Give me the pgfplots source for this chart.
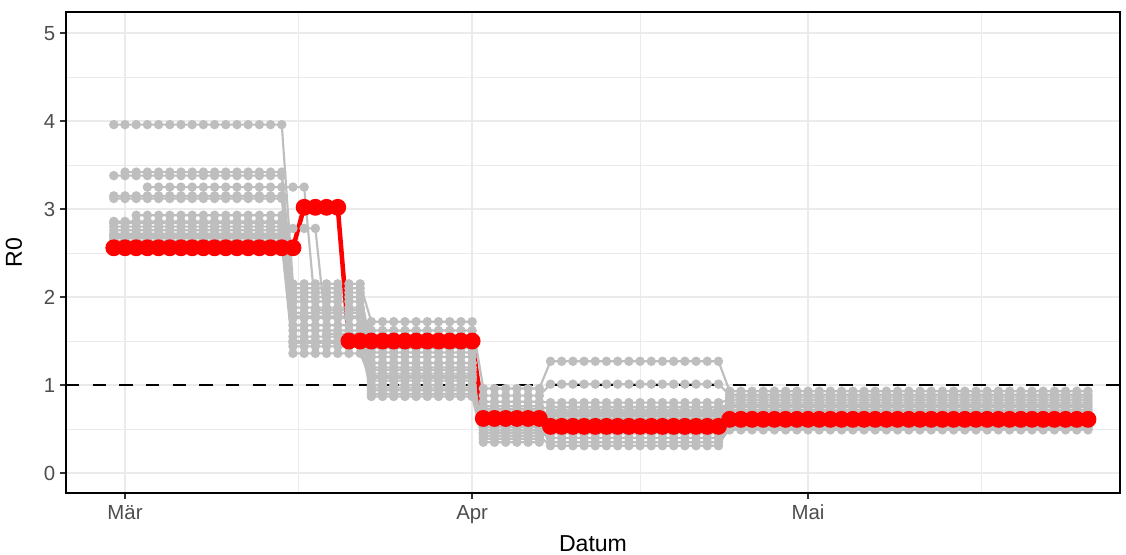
\documentclass[border=0pt]{standalone}
\usepackage{fontspec}
\setmainfont{Liberation Sans}
\usepackage{pgfplots}
\pgfplotsset{compat=1.18}
\usepackage{pgfplotstable}
\definecolor{gridc}{HTML}{EBEBEB}
\definecolor{tickc}{HTML}{4D4D4D}
\definecolor{lgray}{HTML}{BEBEBE}

\pgfplotstableread{
d r g1 g2 g3 g4 g5 g6 g7 g8 g9 g10 g11 g12 g13 g14 g15 g16 g17 g18
-1 2.56 3.96 3.38 nan nan 3.15 3.12 nan 2.86 2.80 2.76 2.70 2.67 2.64 2.60 2.72 2.62 2.68 2.84
0 2.56 3.96 3.38 3.42 nan 3.15 3.12 nan 2.86 2.80 2.76 2.70 2.67 2.64 2.60 2.72 2.62 2.68 2.84
1 2.56 3.96 3.38 3.42 nan 3.15 3.12 2.93 2.86 2.80 2.76 2.70 2.67 2.64 2.60 2.72 2.62 2.68 2.84
2 2.56 3.96 3.38 3.42 3.25 3.15 3.12 2.93 2.86 2.80 2.76 2.70 2.67 2.64 2.60 2.72 2.62 2.68 2.84
3 2.56 3.96 3.38 3.42 3.25 3.15 3.12 2.93 2.86 2.80 2.76 2.70 2.67 2.64 2.60 2.72 2.62 2.68 2.84
4 2.56 3.96 3.38 3.42 3.25 3.15 3.12 2.93 2.86 2.80 2.76 2.70 2.67 2.64 2.60 2.72 2.62 2.68 2.84
5 2.56 3.96 3.38 3.42 3.25 3.15 3.12 2.93 2.86 2.80 2.76 2.70 2.67 2.64 2.60 2.72 2.62 2.68 2.84
6 2.56 3.96 3.38 3.42 3.25 3.15 3.12 2.93 2.86 2.80 2.76 2.70 2.67 2.64 2.60 2.72 2.62 2.68 2.84
7 2.56 3.96 3.38 3.42 3.25 3.15 3.12 2.93 2.86 2.80 2.76 2.70 2.67 2.64 2.60 2.72 2.62 2.68 2.84
8 2.56 3.96 3.38 3.42 3.25 3.15 3.12 2.93 2.86 2.80 2.76 2.70 2.67 2.64 2.60 2.72 2.62 2.68 2.84
9 2.56 3.96 3.38 3.42 3.25 3.15 3.12 2.93 2.86 2.80 2.76 2.70 2.67 2.64 2.60 2.72 2.62 2.68 2.84
10 2.56 3.96 3.38 3.42 3.25 3.15 3.12 2.93 2.86 2.80 2.76 2.70 2.67 2.64 2.60 2.72 2.62 2.68 2.84
11 2.56 3.96 3.38 3.42 3.25 3.15 3.12 2.93 2.86 2.80 2.76 2.70 2.67 2.64 2.60 2.72 2.62 2.68 2.84
12 2.56 3.96 3.38 3.42 3.25 3.15 3.12 2.93 2.86 2.80 2.76 2.70 2.67 2.64 2.60 2.72 2.62 2.68 2.84
13 2.56 3.96 3.38 3.42 3.25 3.15 3.12 2.93 2.86 2.80 2.76 2.70 2.67 2.64 2.60 2.72 2.62 2.68 2.84
14 2.56 3.96 3.38 3.42 3.25 3.15 3.12 2.93 2.86 2.80 2.76 2.70 2.67 2.64 2.60 2.72 2.62 2.68 2.84
15 2.56 2.15 2.10 2.05 3.25 2.00 1.95 1.78 1.76 1.68 1.62 1.55 1.50 1.48 1.36 1.44 2.78 1.88 1.82
16 3.02 2.15 2.10 2.05 3.25 2.00 1.95 1.78 1.76 1.68 1.62 1.55 1.50 1.48 1.36 1.44 2.78 1.88 1.82
17 3.02 2.15 2.10 2.05 1.85 2.00 1.95 1.78 1.76 1.68 1.62 1.55 1.50 1.48 1.36 1.44 2.78 1.88 1.82
18 3.02 2.15 2.10 2.05 1.85 2.00 1.95 1.78 1.76 1.68 1.62 1.55 1.50 1.48 1.36 1.44 1.58 1.88 1.82
19 3.02 2.15 2.10 2.05 1.85 2.00 1.95 1.78 1.76 1.68 1.62 1.55 1.50 1.48 1.36 1.44 1.58 1.88 1.82
20 1.50 2.15 2.10 2.05 1.85 2.00 1.95 1.78 1.76 1.68 1.62 1.55 1.50 1.48 1.36 1.44 1.58 1.88 1.82
21 1.50 2.15 2.10 2.05 1.85 2.00 1.95 1.78 1.76 1.68 1.62 1.55 1.50 1.48 1.36 1.44 1.58 1.88 1.82
22 1.50 1.72 1.32 1.42 1.25 1.17 1.08 0.94 0.87 1.00 1.25 1.10 0.90 1.20 1.05 0.97 1.13 1.37 1.62
23 1.50 1.72 1.32 1.42 1.25 1.17 1.08 0.94 0.87 1.00 1.25 1.10 0.90 1.20 1.05 0.97 1.13 1.37 1.62
24 1.50 1.72 1.32 1.42 1.25 1.17 1.08 0.94 0.87 1.00 1.25 1.10 0.90 1.20 1.05 0.97 1.13 1.37 1.62
25 1.50 1.72 1.32 1.42 1.25 1.17 1.08 0.94 0.87 1.00 1.25 1.10 0.90 1.20 1.05 0.97 1.13 1.37 1.62
26 1.50 1.72 1.32 1.42 1.25 1.17 1.08 0.94 0.87 1.00 1.25 1.10 0.90 1.20 1.05 0.97 1.13 1.37 1.62
27 1.50 1.72 1.32 1.42 1.25 1.17 1.08 0.94 0.87 1.00 1.25 1.10 0.90 1.20 1.05 0.97 1.13 1.37 1.62
28 1.50 1.72 1.32 1.42 1.25 1.17 1.08 0.94 0.87 1.00 1.25 1.10 0.90 1.20 1.05 0.97 1.13 1.37 1.62
29 1.50 1.72 1.32 1.42 1.25 1.17 1.08 0.94 0.87 1.00 1.25 1.10 0.90 1.20 1.05 0.97 1.13 1.37 1.62
30 1.50 1.72 1.32 1.42 1.25 1.17 1.08 0.94 0.87 1.00 1.25 1.10 0.90 1.20 1.05 0.97 1.13 1.37 1.62
31 1.50 1.72 1.32 1.42 1.25 1.17 1.08 0.94 0.87 1.00 1.25 1.10 0.90 1.20 1.05 0.97 1.13 1.37 1.62
32 0.62 0.96 0.88 0.81 0.73 0.55 0.49 0.39 0.35 0.45 0.58 0.52 0.42 0.70 0.60 0.67 0.76 0.46 0.63
33 0.62 0.96 0.88 0.81 0.73 0.55 0.49 0.39 0.35 0.45 0.58 0.52 0.42 0.70 0.60 0.67 0.76 0.46 0.63
34 0.62 0.96 0.88 0.81 0.73 0.55 0.49 0.39 0.35 0.45 0.58 0.52 0.42 0.70 0.60 0.67 0.76 0.46 0.63
35 0.62 0.96 0.88 0.81 0.73 0.55 0.49 0.39 0.35 0.45 0.58 0.52 0.42 0.70 0.60 0.67 0.76 0.46 0.63
36 0.62 0.96 0.88 0.81 0.73 0.55 0.49 0.39 0.35 0.45 0.58 0.52 0.42 0.70 0.60 0.67 0.76 0.46 0.63
37 0.62 0.96 0.88 0.81 0.73 0.55 0.49 0.39 0.35 0.45 0.58 0.52 0.42 0.70 0.60 0.67 0.76 0.46 0.63
38 0.53 1.27 1.01 0.80 0.75 0.72 0.68 0.65 0.60 0.47 0.40 0.35 0.31 0.57 0.50 0.45 0.62 0.70 0.66
39 0.53 1.27 1.01 0.80 0.75 0.72 0.68 0.65 0.60 0.47 0.40 0.35 0.31 0.57 0.50 0.45 0.62 0.70 0.66
40 0.53 1.27 1.01 0.80 0.75 0.72 0.68 0.65 0.60 0.47 0.40 0.35 0.31 0.57 0.50 0.45 0.62 0.70 0.66
41 0.53 1.27 1.01 0.80 0.75 0.72 0.68 0.65 0.60 0.47 0.40 0.35 0.31 0.57 0.50 0.45 0.62 0.70 0.66
42 0.53 1.27 1.01 0.80 0.75 0.72 0.68 0.65 0.60 0.47 0.40 0.35 0.31 0.57 0.50 0.45 0.62 0.70 0.66
43 0.53 1.27 1.01 0.80 0.75 0.72 0.68 0.65 0.60 0.47 0.40 0.35 0.31 0.57 0.50 0.45 0.62 0.70 0.66
44 0.53 1.27 1.01 0.80 0.75 0.72 0.68 0.65 0.60 0.47 0.40 0.35 0.31 0.57 0.50 0.45 0.62 0.70 0.66
45 0.53 1.27 1.01 0.80 0.75 0.72 0.68 0.65 0.60 0.47 0.40 0.35 0.31 0.57 0.50 0.45 0.62 0.70 0.66
46 0.53 1.27 1.01 0.80 0.75 0.72 0.68 0.65 0.60 0.47 0.40 0.35 0.31 0.57 0.50 0.45 0.62 0.70 0.66
47 0.53 1.27 1.01 0.80 0.75 0.72 0.68 0.65 0.60 0.47 0.40 0.35 0.31 0.57 0.50 0.45 0.62 0.70 0.66
48 0.53 1.27 1.01 0.80 0.75 0.72 0.68 0.65 0.60 0.47 0.40 0.35 0.31 0.57 0.50 0.45 0.62 0.70 0.66
49 0.53 1.27 1.01 0.80 0.75 0.72 0.68 0.65 0.60 0.47 0.40 0.35 0.31 0.57 0.50 0.45 0.62 0.70 0.66
50 0.53 1.27 1.01 0.80 0.75 0.72 0.68 0.65 0.60 0.47 0.40 0.35 0.31 0.57 0.50 0.45 0.62 0.70 0.66
51 0.53 1.27 1.01 0.80 0.75 0.72 0.68 0.65 0.60 0.47 0.40 0.35 0.31 0.57 0.50 0.45 0.62 0.70 0.66
52 0.53 1.27 1.01 0.80 0.75 0.72 0.68 0.65 0.60 0.47 0.40 0.35 0.31 0.57 0.50 0.45 0.62 0.70 0.66
53 0.53 1.27 1.01 0.80 0.75 0.72 0.68 0.65 0.60 0.47 0.40 0.35 0.31 0.57 0.50 0.45 0.62 0.70 0.66
54 0.61 0.93 0.89 0.83 0.77 0.72 0.70 0.66 0.65 0.55 0.50 0.49 0.53 0.58 0.60 0.80 0.86 0.75 0.52
55 0.61 0.93 0.89 0.83 0.77 0.72 0.70 0.66 0.65 0.55 0.50 0.49 0.53 0.58 0.60 0.80 0.86 0.75 0.52
56 0.61 0.93 0.89 0.83 0.77 0.72 0.70 0.66 0.65 0.55 0.50 0.49 0.53 0.58 0.60 0.80 0.86 0.75 0.52
57 0.61 0.93 0.89 0.83 0.77 0.72 0.70 0.66 0.65 0.55 0.50 0.49 0.53 0.58 0.60 0.80 0.86 0.75 0.52
58 0.61 0.93 0.89 0.83 0.77 0.72 0.70 0.66 0.65 0.55 0.50 0.49 0.53 0.58 0.60 0.80 0.86 0.75 0.52
59 0.61 0.93 0.89 0.83 0.77 0.72 0.70 0.66 0.65 0.55 0.50 0.49 0.53 0.58 0.60 0.80 0.86 0.75 0.52
60 0.61 0.93 0.89 0.83 0.77 0.72 0.70 0.66 0.65 0.55 0.50 0.49 0.53 0.58 0.60 0.80 0.86 0.75 0.52
61 0.61 0.93 0.89 0.83 0.77 0.72 0.70 0.66 0.65 0.55 0.50 0.49 0.53 0.58 0.60 0.80 0.86 0.75 0.52
62 0.61 0.93 0.89 0.83 0.77 0.72 0.70 0.66 0.65 0.55 0.50 0.49 0.53 0.58 0.60 0.80 0.86 0.75 0.52
63 0.61 0.93 0.89 0.83 0.77 0.72 0.70 0.66 0.65 0.55 0.50 0.49 0.53 0.58 0.60 0.80 0.86 0.75 0.52
64 0.61 0.93 0.89 0.83 0.77 0.72 0.70 0.66 0.65 0.55 0.50 0.49 0.53 0.58 0.60 0.80 0.86 0.75 0.52
65 0.61 0.93 0.89 0.83 0.77 0.72 0.70 0.66 0.65 0.55 0.50 0.49 0.53 0.58 0.60 0.80 0.86 0.75 0.52
66 0.61 0.93 0.89 0.83 0.77 0.72 0.70 0.66 0.65 0.55 0.50 0.49 0.53 0.58 0.60 0.80 0.86 0.75 0.52
67 0.61 0.93 0.89 0.83 0.77 0.72 0.70 0.66 0.65 0.55 0.50 0.49 0.53 0.58 0.60 0.80 0.86 0.75 0.52
68 0.61 0.93 0.89 0.83 0.77 0.72 0.70 0.66 0.65 0.55 0.50 0.49 0.53 0.58 0.60 0.80 0.86 0.75 0.52
69 0.61 0.93 0.89 0.83 0.77 0.72 0.70 0.66 0.65 0.55 0.50 0.49 0.53 0.58 0.60 0.80 0.86 0.75 0.52
70 0.61 0.93 0.89 0.83 0.77 0.72 0.70 0.66 0.65 0.55 0.50 0.49 0.53 0.58 0.60 0.80 0.86 0.75 0.52
71 0.61 0.93 0.89 0.83 0.77 0.72 0.70 0.66 0.65 0.55 0.50 0.49 0.53 0.58 0.60 0.80 0.86 0.75 0.52
72 0.61 0.93 0.89 0.83 0.77 0.72 0.70 0.66 0.65 0.55 0.50 0.49 0.53 0.58 0.60 0.80 0.86 0.75 0.52
73 0.61 0.93 0.89 0.83 0.77 0.72 0.70 0.66 0.65 0.55 0.50 0.49 0.53 0.58 0.60 0.80 0.86 0.75 0.52
74 0.61 0.93 0.89 0.83 0.77 0.72 0.70 0.66 0.65 0.55 0.50 0.49 0.53 0.58 0.60 0.80 0.86 0.75 0.52
75 0.61 0.93 0.89 0.83 0.77 0.72 0.70 0.66 0.65 0.55 0.50 0.49 0.53 0.58 0.60 0.80 0.86 0.75 0.52
76 0.61 0.93 0.89 0.83 0.77 0.72 0.70 0.66 0.65 0.55 0.50 0.49 0.53 0.58 0.60 0.80 0.86 0.75 0.52
77 0.61 0.93 0.89 0.83 0.77 0.72 0.70 0.66 0.65 0.55 0.50 0.49 0.53 0.58 0.60 0.80 0.86 0.75 0.52
78 0.61 0.93 0.89 0.83 0.77 0.72 0.70 0.66 0.65 0.55 0.50 0.49 0.53 0.58 0.60 0.80 0.86 0.75 0.52
79 0.61 0.93 0.89 0.83 0.77 0.72 0.70 0.66 0.65 0.55 0.50 0.49 0.53 0.58 0.60 0.80 0.86 0.75 0.52
80 0.61 0.93 0.89 0.83 0.77 0.72 0.70 0.66 0.65 0.55 0.50 0.49 0.53 0.58 0.60 0.80 0.86 0.75 0.52
81 0.61 0.93 0.89 0.83 0.77 0.72 0.70 0.66 0.65 0.55 0.50 0.49 0.53 0.58 0.60 0.80 0.86 0.75 0.52
82 0.61 0.93 0.89 0.83 0.77 0.72 0.70 0.66 0.65 0.55 0.50 0.49 0.53 0.58 0.60 0.80 0.86 0.75 0.52
83 0.61 0.93 0.89 0.83 0.77 0.72 0.70 0.66 0.65 0.55 0.50 0.49 0.53 0.58 0.60 0.80 0.86 0.75 0.52
84 0.61 0.93 0.89 0.83 0.77 0.72 0.70 0.66 0.65 0.55 0.50 0.49 0.53 0.58 0.60 0.80 0.86 0.75 0.52
85 0.61 0.93 0.89 0.83 0.77 0.72 0.70 0.66 0.65 0.55 0.50 0.49 0.53 0.58 0.60 0.80 0.86 0.75 0.52
86 0.61 0.93 0.89 0.83 0.77 0.72 0.70 0.66 0.65 0.55 0.50 0.49 0.53 0.58 0.60 0.80 0.86 0.75 0.52
}\data

\begin{document}
\begin{tikzpicture}
\begin{axis}[
  scale only axis, width=790.5pt, height=360.75pt,
  xmin=-5.27, xmax=88.86, ymin=-0.227, ymax=5.24,
  xtick={0,31,61}, xticklabels={Mär,Apr,Mai},
  minor xtick={15.5,46,76.5},
  ytick={0,1,2,3,4,5}, minor ytick={0.5,1.5,2.5,3.5,4.5},
  /pgf/number format/assume math mode=true,
  grid=both,
  major grid style={gridc, line width=1.5pt},
  minor grid style={gridc, line width=0.75pt},
  tick align=outside, major tick length=4.5pt, minor tick length=0pt,
  tick style={color=black!80, line width=1pt},
  xtick pos=bottom, ytick pos=left,
  axis line style={black, line width=1.2pt},
  ticklabel style={font=\fontsize{15.3}{17}\selectfont, text=tickc},
  xticklabel style={yshift=-1pt},
  label style={font=\fontsize{17.3}{20}\selectfont},
  xlabel=Datum, ylabel=R0,
  xlabel style={at={(axis description cs:0.5,-0.106)}, anchor=center},
  ylabel style={at={(axis description cs:-0.0493,0.5)}, anchor=center},
]
\coordinate (bl) at (rel axis cs:0,0);
\coordinate (tr) at (rel axis cs:1,1);
\pgfplotsinvokeforeach{1,...,18}{
  \addplot[lgray, line width=1.6pt, mark=*, mark size=2.7pt, mark options={fill=lgray, draw=none}] table[x=d, y=g#1]{\data};
}
\addplot[black, line width=2.1pt, dash pattern=on 10pt off 10pt] coordinates {(-5.27,1) (88.86,1)};
\addplot[red, line width=3.4pt, mark=*, mark size=4.6pt, mark options={fill=red, draw=none}] table[x=d, y=r]{\data};
\end{axis}
\pgfresetboundingbox
\path ([shift={(-49.5pt,-46.5pt)}]bl) rectangle ([shift={(4.5pt,9pt)}]tr);
\end{tikzpicture}
\end{document}
